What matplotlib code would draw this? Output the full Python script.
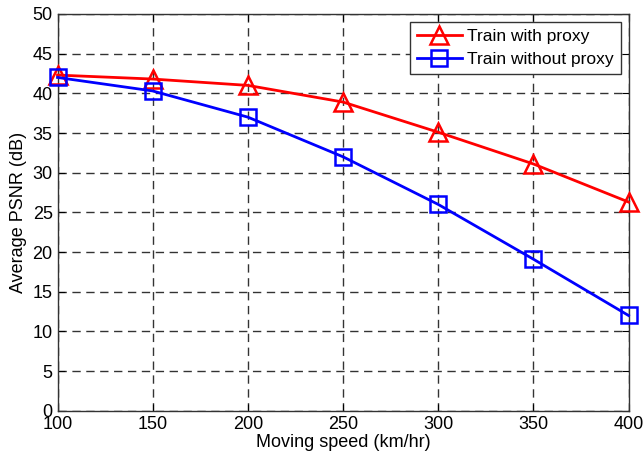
import numpy as np
import matplotlib
matplotlib.use('Agg')
import matplotlib.pyplot as plt

# 数据
speed = [100, 150, 200, 250, 300, 350, 400]
psnr_proxy = [42.3, 41.8, 41.0, 38.9, 35.1, 31.1, 26.3]
psnr_no_proxy = [42.0, 40.3, 37.0, 32.0, 26.0, 19.1, 12.0]
x_ticks = [100, 150, 200, 250, 300, 350, 400]
y_ticks = list(range(0, 51, 5))

plt.rcParams['font.family'] = ['Liberation Sans', 'DejaVu Sans']

fig = plt.figure(figsize=(6.44, 4.57), dpi=100)
ax = fig.add_axes([0.0893, 0.1013, 0.8867, 0.8681])

ax.plot(speed, psnr_proxy, color='#ff0000', lw=2, marker='^', ms=13,
        mfc='none', mec='#ff0000', mew=1.8, label='Train with proxy',
        zorder=3, clip_on=False)
ax.plot(speed, psnr_no_proxy, color='#0000ff', lw=2, marker='s', ms=11,
        mfc='none', mec='#0000ff', mew=1.8, label='Train without proxy',
        zorder=3, clip_on=False)

ax.set_xlim(100, 400)
ax.set_ylim(0, 50)
ax.set_xticks(x_ticks)
ax.set_yticks(y_ticks)
ax.tick_params(direction='in', top=True, right=True, labelsize=13, length=5)
ax.grid(True, color='#333333', linestyle=(0, (6, 4)), lw=1)
for s in ax.spines.values():
    s.set_color('#333333')
    s.set_linewidth(1)

ax.set_xlabel('Moving speed (km/hr)', fontsize=13, labelpad=1)
ax.set_ylabel('Average PSNR (dB)', fontsize=13, labelpad=4)

leg = ax.legend(loc='upper right', fontsize=12.5, fancybox=False, framealpha=1,
                edgecolor='#333333', borderaxespad=0.45, handlelength=2.6,
                borderpad=0.4, labelspacing=0.45, handletextpad=0.3)
leg.get_frame().set_linewidth(1)

fig.savefig('out.png', dpi=100)
